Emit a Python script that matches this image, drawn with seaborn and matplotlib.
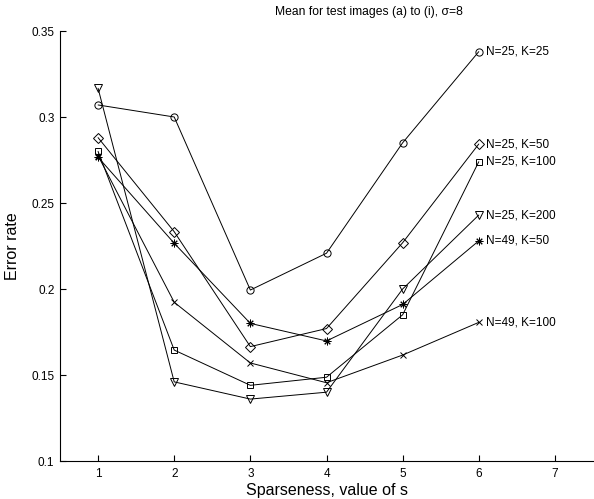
import matplotlib
matplotlib.use("Agg")
import matplotlib.pyplot as plt
import seaborn as sns
import pandas as pd

s_values = [1, 2, 3, 4, 5, 6]
n25_k25 = [0.307, 0.300, 0.1994, 0.2208, 0.285, 0.338]
n25_k50 = [0.288, 0.2333, 0.1665, 0.177, 0.2269, 0.2843]
n25_k100 = [0.280, 0.1645, 0.144, 0.1487, 0.185, 0.274]
n25_k200 = [0.3167, 0.146, 0.136, 0.140, 0.200, 0.243]
n49_k50 = [0.2766, 0.2266, 0.180, 0.1698, 0.191, 0.228]
n49_k100 = [0.2775, 0.1923, 0.157, 0.1455, 0.1616, 0.1806]

series_names = ["N=25, K=25", "N=25, K=50", "N=25, K=100",
                "N=25, K=200", "N=49, K=50", "N=49, K=100"]
series_values = [n25_k25, n25_k50, n25_k100, n25_k200, n49_k50, n49_k100]
markers = ["o", "D", "s", "v", (8, 2, 0), "x"]
msizes = [5.2, 4.6, 4.2, 6, 5.5, 4.2]

sns.set_theme(style="white")
plt.rcParams["font.family"] = ["Liberation Sans", "DejaVu Sans"]

fig = plt.figure(figsize=(5.94, 4.99), dpi=100)
ax = fig.add_axes([60/594, 1 - 461/499, 533/594, (461 - 31)/499])

for name, vals, m, ms in zip(series_names, series_values, markers, msizes):
    df = pd.DataFrame({"s": s_values, "err": vals})
    sns.lineplot(data=df, x="s", y="err", ax=ax, color="black", lw=0.7,
                 marker=m, markersize=ms, markerfacecolor="none",
                 markeredgecolor="black", markeredgewidth=0.7)
    ax.text(s_values[-1] + 0.1, vals[-1], name, fontsize=8.5,
            ha="left", va="center", color="black")

ax.set_xlim(0.5, 7.5)
ax.set_ylim(0.1, 0.35)
ax.set_xticks([1, 2, 3, 4, 5, 6, 7])
ax.set_yticks([0.1, 0.15, 0.2, 0.25, 0.3, 0.35])
ax.set_yticklabels(["0.1", "0.15", "0.2", "0.25", "0.3", "0.35"])
ax.tick_params(direction="in", length=4, width=0.8, labelsize=8.5,
               colors="black", bottom=True, left=True)
ax.tick_params(axis="x", pad=5)
ax.tick_params(axis="y", pad=4)
for side in ["top", "right"]:
    ax.spines[side].set_visible(False)
for side in ["left", "bottom"]:
    ax.spines[side].set_color("black")
    ax.spines[side].set_linewidth(0.8)
ax.set_xlabel("Sparseness, value of s", fontsize=11.5, color="black", labelpad=2)
ax.set_ylabel("Error rate", fontsize=11.5, color="black", labelpad=8)
fig.text(369/594, 1 - 12/499, "Mean for test images (a) to (i), σ=8",
         fontsize=8.7, color="black", ha="center", va="center")
ax.grid(False)

fig.savefig("out.png", dpi=100)
